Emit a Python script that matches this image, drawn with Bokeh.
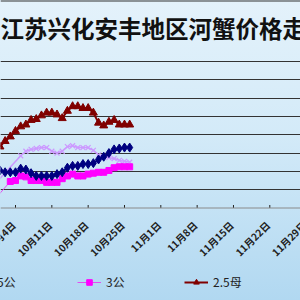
import pandas as pd
from math import pi
from bokeh.plotting import figure
from bokeh.models import Range1d, FixedTicker, Legend, LegendItem, Label, Span
from bokeh.embed import file_html
from bokeh.resources import INLINE

# ---------------- data ----------------
title_text = "江苏兴化安丰地区河蟹价格走"

navy_dates = pd.date_range("2016-09-30", "2016-10-26")
navy_35gong = [20.5, 20.5, 19.5, 19.5, 19.5, 21.5, 21, 19, 17.5, 17.5, 17.5, 17.5, 18.5, 19.5,
               22, 23, 23, 24, 24, 24.5, 26.5, 28, 30, 32, 32.5, 33, 33]

red_dates = pd.date_range("2016-09-30", "2016-10-26")
red_25mu = [31.5, 33.5, 36.5, 39, 42, 44.5, 45.5, 48, 48.5, 50.5, 52, 52, 51, 49,
            53, 55.5, 55.5, 54.5, 54.5, 52, 46.5, 45, 47, 48, 45.5, 45.5, 45.5]

magenta_dates = [pd.Timestamp("2016-09-29")] + list(pd.date_range("2016-10-03", "2016-10-26"))
magenta_3gong = [1.5, 14.5, 15, 17.5, 17, 15, 15, 15, 14, 14, 14, 16, 17.5, 18.5, 17.5, 17.5,
                 18.5, 19, 19.5, 19.5, 20.5, 22, 22.5, 22.5, 22.5]

lavender_dates = [pd.Timestamp("2016-09-29")] + list(pd.date_range("2016-10-05", "2016-10-26"))
lavender_series = [10, 28.5, 31, 32, 32.5, 33, 33, 31, 30, 31, 33.5, 34, 33, 33, 33, 31.5,
                   29, 28, 27.5, 27, 26, 25.5, 25]

tick_dates = pd.to_datetime(["2016-10-04", "2016-10-11", "2016-10-18", "2016-10-25", "2016-11-01",
                             "2016-11-08", "2016-11-15", "2016-11-22", "2016-11-29"])
tick_labels = ["10月4日", "10月11日", "10月18日", "10月25日", "11月1日",
               "11月8日", "11月15日", "11月22日", "11月29日"]
grid_values = [10, 20, 30, 40, 50, 60, 70, 80]

legend_labels = ["3.5公", "3公", "2.5母"]

# ---------------- figure ----------------
PX_PER_DAY = 5.19
PX_PER_UNIT = 1.83125
ZERO_PX = 207.5          # pixel row (from top) of the value 0
x_start = tick_dates[0] - pd.Timedelta(days=15 / PX_PER_DAY)
x_end = x_start + pd.Timedelta(days=300 / PX_PER_DAY)
y_start = -(300 - ZERO_PX) / PX_PER_UNIT
y_end = ZERO_PX / PX_PER_UNIT

p = figure(width=300, height=300, output_backend="svg", toolbar_location=None,
           x_axis_type="datetime", x_axis_location=None, y_axis_location=None,
           x_range=Range1d(x_start, x_end), y_range=Range1d(y_start, y_end),
           min_border=0, border_fill_color=None, background_fill_color=None,
           outline_line_color=None,
           styles={"background": "linear-gradient(to bottom, #e4f2fb 0%, #d3eaf8 45%, #b1d8f1 100%)"})

p.xgrid.visible = False
p.ygrid.ticker = FixedTicker(ticks=grid_values)
p.ygrid.grid_line_color = "#333333"
p.ygrid.grid_line_width = 1

# top border and x axis line
p.add_layout(Span(location=y_end, dimension="width", line_color="#333333", line_width=2))
p.add_layout(Span(location=0, dimension="width", line_color="#8a8a8a", line_width=1))

# tick marks (pointing up into the plot)
p.segment(x0=tick_dates, y0=[0] * len(tick_dates), x1=tick_dates,
          y1=[3 / PX_PER_UNIT] * len(tick_dates), line_color="#222222", line_width=1)

# series
lav_l = p.line(lavender_dates, lavender_series, line_color="#cc99ff", line_width=1.5)
lav_s = p.scatter(lavender_dates[1:], lavender_series[1:], marker="x", size=7,
                  line_color="#cc99ff", line_width=1.2)

mag_l = p.line(magenta_dates, magenta_3gong, line_color="#e050f0", line_width=1)
mag_s = p.scatter(magenta_dates[1:], magenta_3gong[1:], marker="square", size=6,
                  fill_color="#ff00ff", line_color="#ff00ff")

navy_l = p.line(navy_dates, navy_35gong, line_color="#000080", line_width=2)
navy_s = p.scatter(navy_dates, navy_35gong, marker="diamond", size=9,
                   fill_color="#000080", line_color="#000080")

red_l = p.line(red_dates, red_25mu, line_color="#800000", line_width=2)
red_s = p.scatter(red_dates, red_25mu, marker="triangle", size=8,
                  fill_color="#800000", line_color="#800000")

# rotated date labels, right end at each tick
for t, lab in zip(tick_dates, tick_labels):
    p.add_layout(Label(x=t, y=-15 / PX_PER_UNIT, text=lab, angle=pi / 4, x_offset=-2,
                       text_align="right", text_baseline="middle",
                       text_font="Noto Sans CJK SC", text_font_style="bold",
                       text_font_size="10px", text_color="#222222"))

# title
p.add_layout(Label(x=0, y=300 - 27, x_units="screen", y_units="screen", text=title_text,
                   text_font="Noto Sans CJK SC", text_font_style="bold",
                   text_font_size="23.5px", text_color="#111111", text_baseline="middle"))

# legends (one per entry so that spacing matches)
for lab, rends, xloc in [(legend_labels[0], [navy_l, navy_s], -42),
                         (legend_labels[1], [mag_l, mag_s], 77),
                         (legend_labels[2], [red_l, red_s], 184)]:
    lg = Legend(items=[LegendItem(label=lab, renderers=rends)], location=(xloc, 10),
                orientation="horizontal", padding=0, margin=0, spacing=0,
                glyph_width=24, glyph_height=14, label_standoff=5,
                label_text_font="Noto Sans CJK SC", label_text_font_size="12px",
                label_text_color="#222222", background_fill_alpha=0,
                border_line_alpha=0)
    p.add_layout(lg)

open("out.html", "w").write(file_html(p, INLINE))
